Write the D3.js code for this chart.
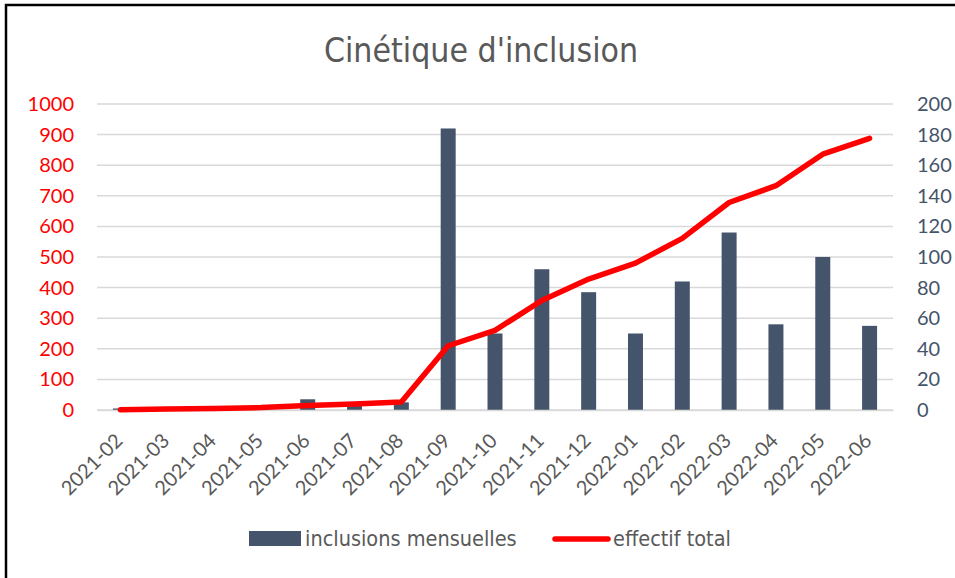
<!DOCTYPE html>
<html lang="fr">
<head>
<meta charset="UTF-8">
<title>Cinétique d'inclusion</title>
<script src="https://d3js.org/d3.v7.min.js"></script>
<style>
    body { margin: 0; background: #fff; }
    svg { display: block; font-family: "DejaVu Sans Condensed", "Lato", sans-serif; }
</style>
</head>
<body>
<div id="chart"></div>
<script>
    // values
    const months = ["2021-02", "2021-03", "2021-04", "2021-05", "2021-06", "2021-07", "2021-08", "2021-09",
        "2021-10", "2021-11", "2021-12", "2022-01", "2022-02", "2022-03", "2022-04", "2022-05", "2022-06"];
    const monthly = [1, 2, 2, 3, 7, 4, 5, 184, 50, 92, 77, 50, 84, 116, 56, 100, 55];
    const total = [1, 3, 5, 8, 15, 20, 26, 210, 260, 358, 428, 480, 561, 678, 733, 836, 888];
    const leftTicks = d3.range(0, 1001, 100);
    const rightTicks = d3.range(0, 201, 20);

    const W = 955, H = 578;
    const margin = { top: 104, right: 62, bottom: 168, left: 97 };
    const plotW = W - margin.left - margin.right;
    const plotH = H - margin.top - margin.bottom;

    const svg = d3.select("#chart").append("svg")
        .attr("width", W)
        .attr("height", H);

    // outer frame
    svg.append("rect")
        .attr("x", 6).attr("y", 5)
        .attr("width", W).attr("height", H)
        .attr("fill", "none")
        .attr("stroke", "#000")
        .attr("stroke-width", 2.5);

    svg.append("text")
        .attr("x", 481).attr("y", 62)
        .attr("text-anchor", "middle")
        .attr("fill", "#595959")
        .style("font-size", "33.5px")
        .style("font-weight", "300")
        .text("Cinétique d'inclusion");

    const g = svg.append("g").attr("transform", `translate(${margin.left},${margin.top})`);

    const x = d3.scaleBand().domain(months).range([0, plotW]).paddingInner(0.68).paddingOuter(0.34);
    const xc = d3.scalePoint().domain(months).range([0, plotW]).padding(0.5);
    const yL = d3.scaleLinear().domain([0, 1000]).range([plotH, 0]);
    const yR = d3.scaleLinear().domain([0, 200]).range([plotH, 0]);

    // gridlines
    g.append("g")
        .selectAll("line")
        .data(leftTicks)
        .join("line")
        .attr("x1", 0).attr("x2", plotW)
        .attr("y1", d => yL(d)).attr("y2", d => yL(d))
        .attr("stroke", "#d9d9d9")
        .attr("stroke-width", 1.5);

    // left axis (effectif total)
    const axL = g.append("g")
        .call(d3.axisLeft(yL).tickValues(leftTicks).tickFormat(d3.format("d")).tickSize(0).tickPadding(23));
    axL.select(".domain").remove();
    axL.selectAll("text").attr("fill", "#ff0000").style("font-family", "Lato, sans-serif").style("font-size", "20px");

    // right axis (inclusions mensuelles)
    const axR = g.append("g")
        .attr("transform", `translate(${plotW},0)`)
        .call(d3.axisRight(yR).tickValues(rightTicks).tickSize(0).tickPadding(24));
    axR.select(".domain").remove();
    axR.selectAll("text").attr("fill", "#44546a").style("font-family", "Lato, sans-serif").style("font-size", "20px");

    // bars
    g.append("g")
        .selectAll("rect")
        .data(months)
        .join("rect")
        .attr("x", d => x(d))
        .attr("width", x.bandwidth())
        .attr("y", (d, i) => yR(monthly[i]))
        .attr("height", (d, i) => plotH - yR(monthly[i]))
        .attr("fill", "#44546a");

    // x axis
    const axX = g.append("g")
        .attr("transform", `translate(0,${plotH})`)
        .call(d3.axisBottom(xc).tickSize(0));
    axX.select(".domain").attr("stroke", "#d9d9d9").attr("stroke-width", 1.5);
    axX.selectAll("text")
        .attr("fill", "#595959")
        .style("font-family", "Lato, sans-serif")
        .style("font-size", "20px")
        .attr("text-anchor", "end")
        .attr("x", 0).attr("y", 0)
        .attr("dy", "0.35em")
        .attr("transform", "translate(-2,27) rotate(-45)");

    // cumulative line
    const line = d3.line()
        .x((d, i) => xc(months[i]))
        .y(d => yL(d));
    g.append("path")
        .datum(total)
        .attr("d", line)
        .attr("fill", "none")
        .attr("stroke", "#ff0000")
        .attr("stroke-width", 5.5)
        .attr("stroke-linejoin", "round")
        .attr("stroke-linecap", "round");

    // legend
    const lg = svg.append("g").style("font-size", "21.5px").attr("fill", "#595959");
    lg.append("rect")
        .attr("x", 249).attr("y", 531)
        .attr("width", 52).attr("height", 15)
        .attr("fill", "#44546a");
    lg.append("text").attr("x", 305).attr("y", 546).text("inclusions mensuelles");
    lg.append("line")
        .attr("x1", 555).attr("x2", 608)
        .attr("y1", 539).attr("y2", 539)
        .attr("stroke", "#ff0000")
        .attr("stroke-width", 5.5)
        .attr("stroke-linecap", "round");
    lg.append("text").attr("x", 613).attr("y", 546).text("effectif total");
</script>
</body>
</html>
